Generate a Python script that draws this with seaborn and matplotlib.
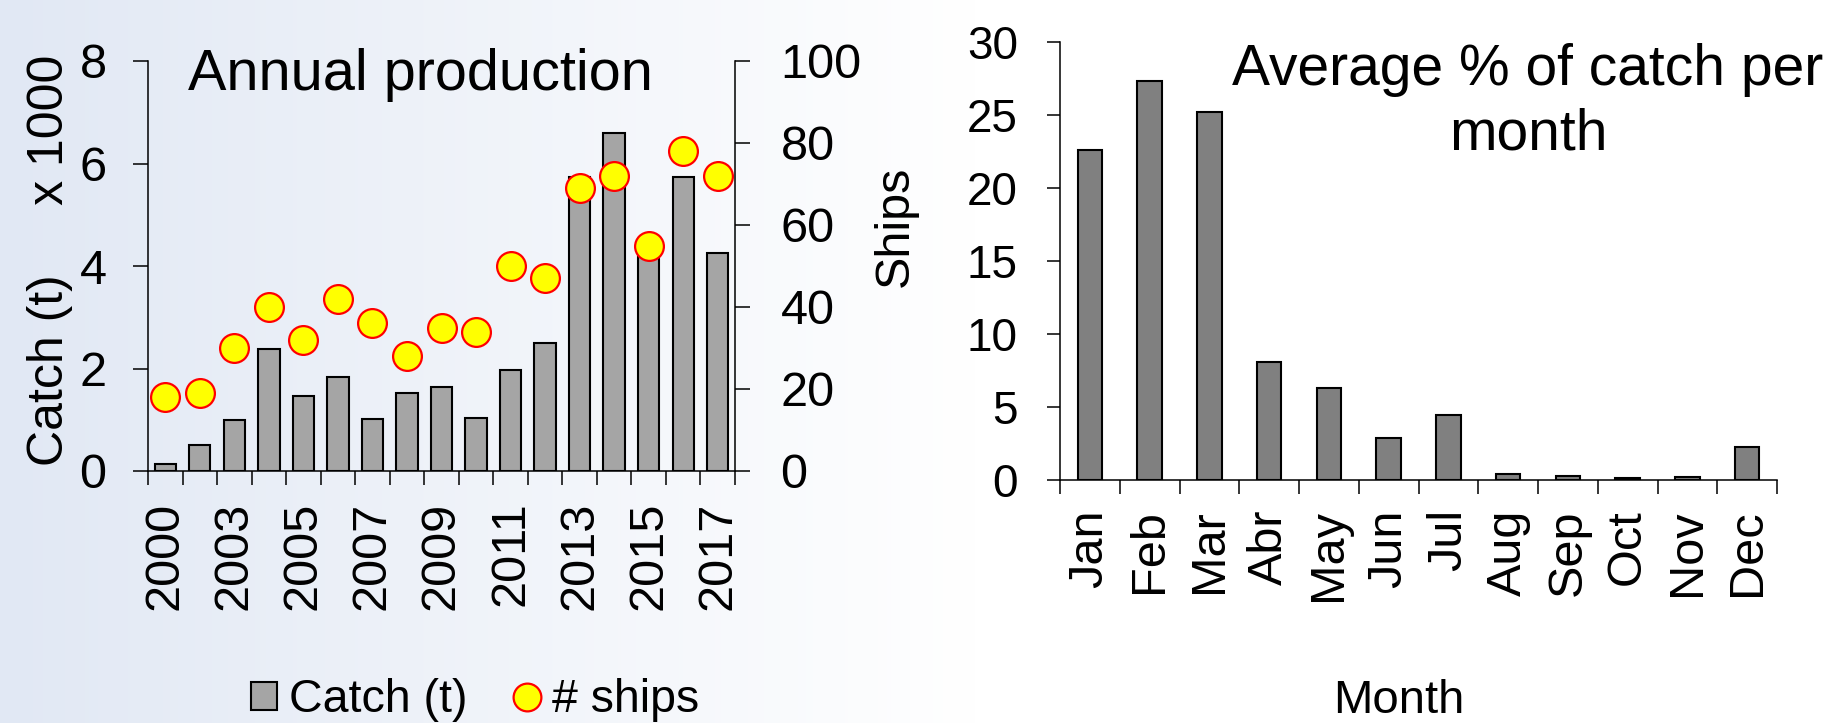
import numpy as np
import pandas as pd
import matplotlib
matplotlib.use("Agg")
import matplotlib.pyplot as plt
from matplotlib.patches import Patch
from matplotlib.lines import Line2D
import seaborn as sns

# ---------------- data ----------------
years = ["2000", "2001", "2003", "2004", "2005", "2006", "2007", "2008", "2009",
         "2010", "2011", "2012", "2013", "2014", "2015", "2016", "2017"]
catch_k = [0.13, 0.50, 1.00, 2.39, 1.47, 1.84, 1.02, 1.52, 1.64,
           1.03, 1.98, 2.50, 5.74, 6.60, 4.32, 5.74, 4.25]
ships = [18, 19, 30, 40, 32, 42, 36, 28, 35, 34, 50, 47, 69, 72, 55, 78, 72]

months = ["Jan", "Feb", "Mar", "Abr", "May", "Jun", "Jul", "Aug", "Sep", "Oct", "Nov", "Dec"]
pct_catch = [22.6, 27.35, 25.2, 8.1, 6.3, 2.85, 4.45, 0.43, 0.29, 0.14, 0.23, 2.27]

left_yticks = [0, 2, 4, 6, 8]
ship_ticks = [0, 20, 40, 60, 80, 100]
right_yticks = [0, 5, 10, 15, 20, 25, 30]

# ---------------- style ----------------
sns.set_style("ticks")
plt.rcParams["font.family"] = ["Liberation Sans", "DejaVu Sans"]
plt.rcParams["axes.linewidth"] = 1.1
for k in ["text.color", "axes.labelcolor", "xtick.color", "ytick.color",
          "xtick.labelcolor", "ytick.labelcolor", "axes.edgecolor"]:
    plt.rcParams[k] = "black"

W, H = 1834, 723
fig = plt.figure(figsize=(W / 100, H / 100), dpi=100)

# background gradient
bg = fig.add_axes([0, 0, 1, 1], zorder=-10)
xs = np.arange(W)
t = np.clip(xs / 975.0, 0, 1)
c0 = np.array([225, 232, 244]) / 255.0
c1 = np.array([1.0, 1.0, 1.0])
row = c0[None, :] * (1 - t[:, None]) + c1[None, :] * t[:, None]
img = np.repeat(row[None, :, :], 2, axis=0)
bg.imshow(img, aspect="auto", extent=[0, 1, 0, 1], interpolation="bilinear")
bg.set_axis_off()


def fx(px):
    return px / W


def fy(py):
    return 1 - py / H


# ---------------- left chart ----------------
ax = fig.add_axes([fx(148), fy(471), fx(735) - fx(148), (471 - 61) / H])
ax.set_facecolor("none")
df_a = pd.DataFrame({"year": years, "catch": catch_k})
sns.barplot(data=df_a, x="year", y="catch", color="#a5a5a5", saturation=1,
            edgecolor="black", linewidth=1.5, width=0.62, ax=ax, zorder=2)
ax.set_ylim(0, 8)
ax.set_yticks(left_yticks)
ax.set_yticklabels([str(v) for v in left_yticks])
n = len(years)
ax.set_xticks(range(n))
ax.set_xticklabels([y if i % 2 == 0 else "" for i, y in enumerate(years)],
                   rotation=90, fontsize=35, va="top")
ax.set_xticks(np.arange(-0.5, n, 1.0), minor=True)
ax.tick_params(axis="x", which="major", length=0, pad=22)
ax.tick_params(axis="x", which="minor", length=10, width=1.1, direction="out", color="black")
ax.tick_params(axis="y", length=10.8, width=1.1, direction="out", pad=19, labelsize=35,
               color="black")
ax.set_xlabel("")
ax.set_ylabel("")
for s in ["top", "right"]:
    ax.spines[s].set_visible(False)

ax2 = ax.twinx()
ax2.set_facecolor("none")
sns.scatterplot(x=np.arange(n), y=ships, ax=ax2, s=430, color="#ffff00",
                edgecolor="#ff0000", linewidth=1.6, zorder=3, legend=False)
ax2.set_ylim(0, 100)
ax2.set_yticks(ship_ticks)
ax2.set_yticklabels([str(v) for v in ship_ticks])
ax2.tick_params(axis="y", length=10.8, width=1.1, direction="out", pad=22, labelsize=35,
                color="black")
ax2.set_xlabel("")
ax2.set_ylabel("")
for s in ["top", "left", "bottom"]:
    ax2.spines[s].set_visible(False)
ax.set_xlim(-0.5, n - 0.5)
ax2.set_xlim(-0.5, n - 0.5)

fig.text(fx(420), fy(90), "Annual production", fontsize=41.5, ha="center", va="baseline")
fig.text(fx(50), fy(466), "Catch (t)     x 1000", fontsize=36, rotation=90,
         ha="center", va="bottom")
fig.text(fx(895), fy(226), "Ships", fontsize=35, rotation=90, ha="center", va="center")

handles = [Patch(facecolor="#a5a5a5", edgecolor="black", linewidth=1.5),
           Line2D([], [], linestyle="none", marker="o", markersize=20,
                  markerfacecolor="#ffff00", markeredgecolor="#ff0000", markeredgewidth=1.6)]
fig.legend(handles, ["Catch (t)", "# ships"], loc="center",
           bbox_to_anchor=(fx(475), fy(700)), ncol=2, frameon=False, fontsize=33.5,
           handlelength=0.57, handleheight=0.55, handletextpad=0.25,
           columnspacing=1.0, borderpad=0, borderaxespad=0)

# ---------------- right chart ----------------
bx = fig.add_axes([fx(1060), fy(480), fx(1777) - fx(1060), (480 - 42) / H])
bx.set_facecolor("none")
df_m = pd.DataFrame({"month": months, "pct": pct_catch})
sns.barplot(data=df_m, x="month", y="pct", color="#808080", saturation=1,
            edgecolor="black", linewidth=1.5, width=0.41, ax=bx, zorder=2)
m = len(months)
bx.set_ylim(0, 30)
bx.set_yticks(right_yticks)
bx.set_yticklabels([str(v) for v in right_yticks])
bx.set_xlim(-0.5, m - 0.5)
bx.set_xticks(range(m))
bx.set_xticklabels(months, rotation=90, fontsize=35, va="top")
bx.set_xticks(np.arange(-0.5, m, 1.0), minor=True)
bx.tick_params(axis="x", which="major", length=0, pad=21)
bx.tick_params(axis="x", which="minor", length=10, width=1.1, direction="out", color="black")
bx.tick_params(axis="y", length=9.4, width=1.1, direction="out", pad=21, labelsize=33,
               color="black")
bx.set_xlabel("")
bx.set_ylabel("")
for s in ["top", "right"]:
    bx.spines[s].set_visible(False)

fig.text(fx(1528), fy(85), "Average % of catch per", fontsize=41, ha="center", va="baseline")
fig.text(fx(1528), fy(150), "month", fontsize=41, ha="center", va="baseline")
fig.text(fx(1399), fy(713), "Month", fontsize=34, ha="center", va="baseline")

fig.savefig("out.png", dpi=100)
